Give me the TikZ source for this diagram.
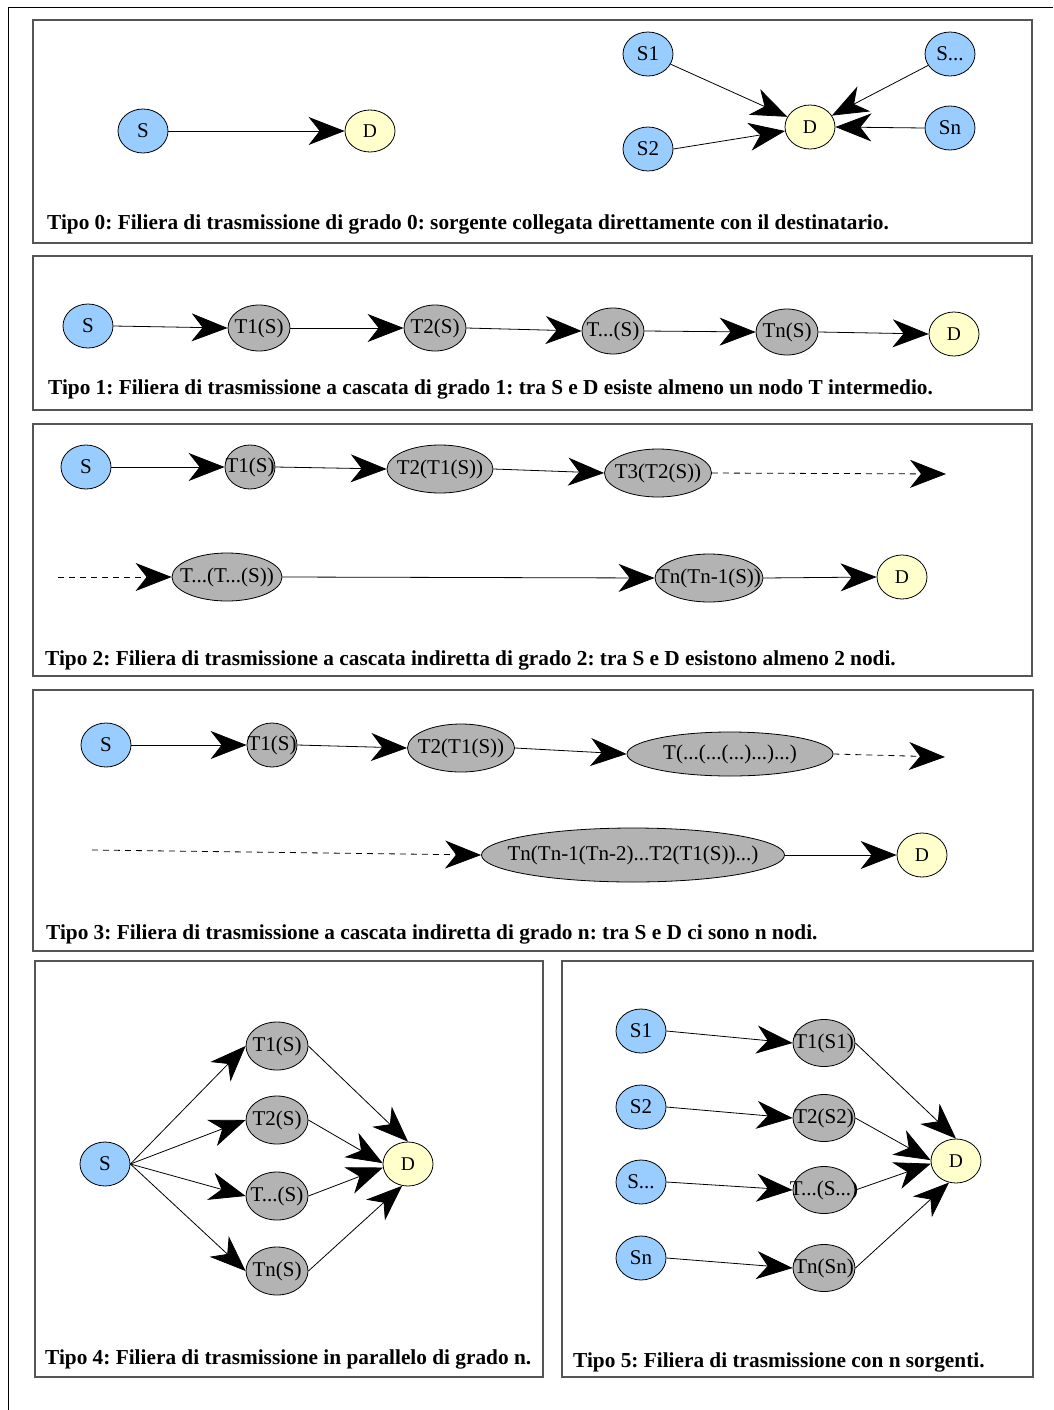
\documentclass[tikz,border=0pt]{standalone}
\usepackage{fontspec}
\setmainfont{Liberation Serif}
\usetikzlibrary{arrows.meta,shapes.geometric}
\frenchspacing

\definecolor{srcblue}{HTML}{99CCFF}
\definecolor{dstyellow}{HTML}{FFFFCC}
\definecolor{relaygray}{HTML}{B3B3B3}
\definecolor{framegray}{HTML}{555555}

% zero-width label box, so the ellipse keeps its set size
\newcommand{\lbl}[1]{\makebox[0pt]{#1}}

\tikzset{
  blob/.style={ellipse, draw=black, line width=0.8pt, inner sep=0pt,
    minimum width=50pt, minimum height=44pt,
    font=\fontsize{21}{24}\selectfont},
  src/.style={blob, fill=srcblue},
  dst/.style={blob, fill=dstyellow, font=\fontsize{19.5}{22}\selectfont},
  relay/.style={blob, fill=relaygray, minimum width=62pt, minimum height=46pt},
  panel/.style={draw=framegray, line width=1.2pt},
  caption/.style={anchor=base west, inner sep=0pt,
    font=\bfseries\fontsize{21.3}{24}\selectfont},
  flow/.style={draw=black, line width=0.8pt,
    -{Stealth[length=36pt, width=28pt, inset=11pt]}},
  flowdash/.style={flow, dash pattern=on 6pt off 5pt},
}

\begin{document}
\begin{tikzpicture}[x=1pt, y=-1pt]
\useasboundingbox (0,0) rectangle (1053,1410);
\fill[white] (0,0) rectangle (1053,1410);

% page frame
\draw[line width=1pt] (1053,8) -- (8,8) -- (8,1410);

% panel frames
\draw[panel] (33,20) rectangle (1032,243);
\draw[panel] (33,256) rectangle (1032,410);
\draw[panel] (33,424) rectangle (1032,676);
\draw[panel] (33,690) rectangle (1033,951);
\draw[panel] (35,961) rectangle (543,1377);
\draw[panel] (562,961) rectangle (1033,1377);

% ---- Tipo 0
\node[src] (a0s) at (143,131) {\lbl{S}};
\node[dst, minimum height=42pt] (a0d) at (370,131) {\lbl{D}};
\draw[flow] (a0s.east) -- (a0d.west);

\node[src] (b0s1) at (648,54) {\lbl{S1}};
\node[src] (b0s2) at (648,149) {\lbl{S2}};
\node[dst] (b0d) at (810,127) {\lbl{D}};
\node[src] (b0sx) at (950,54) {\lbl{S...}};
\node[src] (b0sn) at (950,128) {\lbl{Sn}};
\draw[flow] (b0s1) -- (b0d);
\draw[flow] (b0s2.east) -- (b0d);
\draw[flow] (b0sx) -- (b0d);
\draw[flow] (b0sn.west) -- (b0d.east);

\node[caption] (cap0) at (47,229) {Tipo 0: Filiera di trasmissione di grado 0: sorgente collegata direttamente con il destinatario.};

% ---- Tipo 1
\node[src] (p1s) at (88,326) {\lbl{S}};
\node[relay] (p1t1) at (259,328) {\lbl{T1(S)}};
\node[relay] (p1t2) at (435,328) {\lbl{T2(S)}};
\node[relay] (p1tx) at (613,331) {\lbl{T...(S)}};
\node[relay] (p1tn) at (787,332) {\lbl{Tn(S)}};
\node[dst] (p1d) at (954,334) {\lbl{D}};
\draw[flow] (p1s.east) -- (p1t1.west);
\draw[flow] (p1t1.east) -- (p1t2.west);
\draw[flow] (p1t2.east) -- (p1tx.west);
\draw[flow] (p1tx.east) -- (p1tn.west);
\draw[flow] (p1tn.east) -- (p1d.west);

\node[caption] (cap1) at (48,394) {Tipo 1: Filiera di trasmissione a cascata di grado 1: tra S e D esiste almeno un nodo T intermedio.};

% ---- Tipo 2
\node[src] (p2s) at (86,467) {\lbl{S}};
\node[relay, minimum width=50pt, minimum height=44pt] (p2t1) at (250,467) {\lbl{T1(S)}};
\node[relay, minimum width=106pt, minimum height=48pt] (p2t2) at (440,469) {\lbl{T2(T1(S))}};
\node[relay, minimum width=107pt, minimum height=48pt] (p2t3) at (658,473) {\lbl{T3(T2(S))}};
\coordinate (p2end) at (946,474);
\draw[flow] (p2s.east) -- (p2t1.west);
\draw[flow] (p2t1.east) -- (p2t2.west);
\draw[flow] (p2t2.east) -- (p2t3.west);
\draw[flowdash] (p2t3.east) -- (p2end);

\coordinate (p2start) at (58,577);
\node[relay, minimum width=110pt, minimum height=48pt] (p2tx) at (227,577) {\lbl{T...(T...(S))}};
\node[relay, minimum width=108pt, minimum height=48pt] (p2tn) at (709,578) {\lbl{Tn(Tn-1(S))}};
\node[dst] (p2d) at (902,577) {\lbl{D}};
\draw[flowdash] (p2start) -- (p2tx.west);
\draw[flow] (p2tx.east) -- (p2tn.west);
\draw[flow] (p2tn.east) -- (p2d.west);

\node[caption] (cap2) at (45,665) {Tipo 2: Filiera di trasmissione a cascata indiretta di grado 2: tra S e D esistono almeno 2 nodi.};

% ---- Tipo 3
\node[src] (p3s) at (106,745) {\lbl{S}};
\node[relay, minimum width=50pt, minimum height=44pt] (p3t1) at (272,745) {\lbl{T1(S)}};
\node[relay, minimum width=107pt, minimum height=48pt] (p3t2) at (461,748) {\lbl{T2(T1(S))}};
\node[relay, minimum width=206pt, minimum height=44pt] (p3tx) at (730,754) {\lbl{T(...(...(...)...)...)}};
\coordinate (p3end) at (945,757);
\draw[flow] (p3s.east) -- (p3t1.west);
\draw[flow] (p3t1.east) -- (p3t2.west);
\draw[flow] (p3t2.east) -- (p3tx.west);
\draw[flowdash] (p3tx.east) -- (p3end);

\coordinate (p3start) at (92,850);
\node[relay, minimum width=303pt, minimum height=54pt] (p3tn) at (633,855) {\lbl{Tn(Tn-1(Tn-2)...T2(T1(S))...)}};
\node[dst] (p3d) at (922,855) {\lbl{D}};
\draw[flowdash] (p3start) -- (p3tn.west);
\draw[flow] (p3tn.east) -- (p3d.west);

\node[caption] (cap3) at (46,939) {Tipo 3: Filiera di trasmissione a cascata indiretta di grado n: tra S e D ci sono n nodi.};

% ---- Tipo 4
\node[src] (p4s) at (105,1164) {\lbl{S}};
\node[relay, minimum height=48pt] (p4t1) at (277,1046) {\lbl{T1(S)}};
\node[relay, minimum height=48pt] (p4t2) at (277,1120) {\lbl{T2(S)}};
\node[relay, minimum height=48pt] (p4tx) at (277,1196) {\lbl{T...(S)}};
\node[relay, minimum height=48pt] (p4tn) at (277,1271) {\lbl{Tn(S)}};
\node[dst] (p4d) at (408,1164) {\lbl{D}};
\draw[flow] (p4s.east) -- (p4t1.west);
\draw[flow] (p4s.east) -- (p4t2.west);
\draw[flow] (p4s.east) -- (p4tx.west);
\draw[flow] (p4s.east) -- (p4tn.west);
\draw[flow] (p4t1.east) -- (p4d.north);
\draw[flow] (p4t2.east) -- (p4d.178);
\draw[flow] (p4tx.east) -- (p4d.188);
\draw[flow] (p4tn.east) -- (p4d.255);

\node[caption] (cap4) at (45,1364) {Tipo 4: Filiera di trasmissione in parallelo di grado n.};

% ---- Tipo 5
\node[src] (p5s1) at (641,1031) {\lbl{S1}};
\node[src] (p5s2) at (641,1107) {\lbl{S2}};
\node[src] (p5sx) at (641,1182) {\lbl{S...}};
\node[src] (p5sn) at (641,1258) {\lbl{Sn}};
\node[relay, minimum height=47pt] (p5t1) at (824,1043) {\lbl{T1(S1)}};
\node[relay, minimum height=47pt] (p5t2) at (824,1118) {\lbl{T2(S2)}};
\node[relay, minimum height=47pt] (p5tx) at (824,1190) {\lbl{T...(S...)}};
\node[relay, minimum height=47pt] (p5tn) at (824,1268) {\lbl{Tn(Sn)}};
\node[dst] (p5d) at (956,1161) {\lbl{D}};
\draw[flow] (p5s1.east) -- (p5t1.west);
\draw[flow] (p5s2.east) -- (p5t2.west);
\draw[flow] (p5sx.east) -- (p5tx.west);
\draw[flow] (p5sn.east) -- (p5tn.west);
\draw[flow] (p5t1.east) -- (p5d.north);
\draw[flow] (p5t2.east) -- (p5d.178);
\draw[flow] (p5tx.east) -- (p5d.186);
\draw[flow] (p5tn.east) -- (p5d.252);

\node[caption] (cap5) at (573,1367) {Tipo 5: Filiera di trasmissione con n sorgenti.};
\end{tikzpicture}
\end{document}
